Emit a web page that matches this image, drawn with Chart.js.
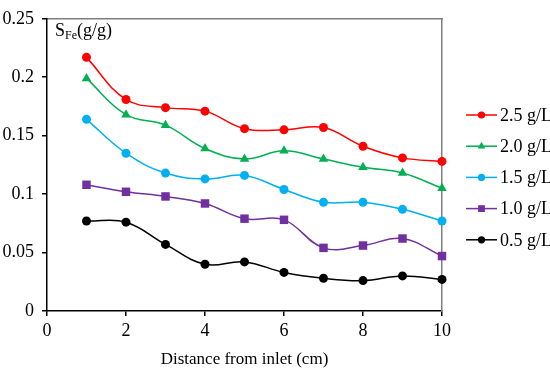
<!DOCTYPE html>
<html>
<head>
<meta charset="utf-8">
<script src="https://cdn.jsdelivr.net/npm/chart.js@4.4.0/dist/chart.umd.min.js"></script>
<style>
  html, body { margin: 0; padding: 0; background: #fff; }
  #wrap { width: 550px; height: 372px; }
</style>
</head>
<body>
<div id="wrap"><canvas id="sfeChart"></canvas></div>
<script>
// distance from inlet (cm)
const distance = [1, 2, 3, 4, 5, 6, 7, 8, 9, 10]

const labels = ["2.5 g/L", "2.0 g/L", "1.5 g/L", "1.0 g/L", "0.5 g/L"]
const sfe25 = [0.217, 0.181, 0.174, 0.171, 0.156, 0.155, 0.157, 0.141, 0.131, 0.128]
const sfe20 = [0.199, 0.168, 0.159, 0.139, 0.130, 0.137, 0.130, 0.123, 0.118, 0.105]
const sfe15 = [0.164, 0.135, 0.118, 0.113, 0.116, 0.104, 0.093, 0.093, 0.087, 0.077]
const sfe10 = [0.108, 0.102, 0.098, 0.092, 0.079, 0.078, 0.054, 0.056, 0.062, 0.047]
const sfe05 = [0.077, 0.076, 0.057, 0.040, 0.042, 0.033, 0.028, 0.026, 0.030, 0.027]

const xTicks = [0, 2, 4, 6, 8, 10]
const yTicks = [0, 0.05, 0.1, 0.15, 0.2, 0.25]

const serif = "'Liberation Serif', 'Times New Roman', serif"

function toPoints(values) {
	return values.map((v, i) => ({ x: distance[i], y: v }))
}

function createLineDataset(values, label, color, pointStyle, radius) {
	let dataset = {}
	dataset["data"] = toPoints(values)
	dataset["label"] = label
	dataset["borderColor"] = color
	dataset["backgroundColor"] = color
	dataset["pointStyle"] = pointStyle
	dataset["pointRadius"] = radius
	dataset["pointBorderWidth"] = 0
	dataset["borderWidth"] = 1.5
	dataset["tension"] = 0.4
	dataset["fill"] = false
	dataset["clip"] = false
	return dataset
}

// legend drawn like the original: short line with marker in the middle
const sideLegend = {
	id: "sideLegend",
	afterDraw(chart) {
		const ctx = chart.ctx
		const x0 = 466, x1 = 497
		let y = 115
		ctx.save()
		chart.data.datasets.forEach(ds => {
			ctx.strokeStyle = ds.borderColor
			ctx.lineWidth = 1.5
			ctx.beginPath()
			ctx.moveTo(x0, y)
			ctx.lineTo(x1, y)
			ctx.stroke()
			ctx.fillStyle = ds.borderColor
			Chart.helpers.drawPoint(ctx, { pointStyle: ds.pointStyle, radius: ds.pointRadius * 0.8, borderWidth: 0 }, (x0 + x1) / 2, y)
			ctx.fillStyle = "#000"
			ctx.font = "18px " + serif
			ctx.textBaseline = "middle"
			ctx.textAlign = "left"
			ctx.fillText(ds.label, 500, y + 1)
			y += 31.2
		})
		ctx.restore()
	}
}

// "S_Fe(g/g)" label inside the plot
const yLabel = {
	id: "yLabel",
	afterDraw(chart) {
		const ctx = chart.ctx
		ctx.save()
		ctx.fillStyle = "#000"
		ctx.textBaseline = "alphabetic"
		ctx.textAlign = "left"
		let x = 55
		const base = 36
		ctx.font = "18px " + serif
		ctx.fillText("S", x, base)
		x += ctx.measureText("S").width
		ctx.font = "12px " + serif
		ctx.fillText("Fe", x, base + 3)
		x += ctx.measureText("Fe").width
		ctx.font = "18px " + serif
		ctx.fillText("(g/g)", x, base)
		ctx.restore()
	}
}

new Chart(document.getElementById("sfeChart"), {
	type: "line",
	data: {
		datasets: [
			createLineDataset(sfe25, labels[0], "#ff0000", "circle", 4.5),
			createLineDataset(sfe20, labels[1], "#00b050", "triangle", 5.5),
			createLineDataset(sfe15, labels[2], "#00b0f0", "circle", 4.5),
			createLineDataset(sfe10, labels[3], "#7030a0", "rect", 6),
			createLineDataset(sfe05, labels[4], "#000000", "circle", 4.5),
		],
	},
	options: {
		responsive: true,
		maintainAspectRatio: false,
		animation: false,
		layout: { padding: { top: 11, right: 108, left: 0, bottom: 0 } },
		plugins: {
			legend: { display: false },
			tooltip: { enabled: false },
		},
		scales: {
			x: {
				type: "linear",
				min: 0,
				max: 10,
				afterBuildTicks: axis => { axis.ticks = xTicks.map(v => ({ value: v })) },
				afterFit: axis => { axis.height = 61 },
				border: { color: "#000", width: 1.5 },
				grid: { drawOnChartArea: false, drawTicks: true, tickLength: 5, color: "#000", lineWidth: 1.5 },
				ticks: { color: "#000", font: { family: serif, size: 18 }, padding: 4, maxRotation: 0 },
				title: {
					display: true,
					text: "Distance from inlet (cm)",
					color: "#000",
					font: { family: serif, size: 17 },
					padding: { top: 0, bottom: 2 },
				},
			},
			x2: {
				type: "linear",
				position: "top",
				min: 0,
				max: 10,
				afterFit: axis => { axis.height = 0 },
				border: { color: "#7f7f7f", width: 1.5 },
				grid: { display: false },
				ticks: { display: false },
			},
			y: {
				min: 0,
				max: 0.25,
				afterBuildTicks: axis => { axis.ticks = yTicks.map(v => ({ value: v })) },
				afterFit: axis => { axis.width = 47 },
				border: { color: "#000", width: 1.5 },
				grid: { drawOnChartArea: false, drawTicks: true, tickLength: 5, color: "#000", lineWidth: 1.5 },
				ticks: {
					color: "#000",
					font: { family: serif, size: 18 },
					padding: 8,
					callback: v => String(Number(v.toFixed(2))),
				},
			},
			y2: {
				position: "right",
				min: 0,
				max: 0.25,
				afterFit: axis => { axis.width = 0 },
				border: { color: "#7f7f7f", width: 1.5 },
				grid: { display: false },
				ticks: { display: false },
			},
		},
	},
	plugins: [sideLegend, yLabel],
})
</script>
</body>
</html>
